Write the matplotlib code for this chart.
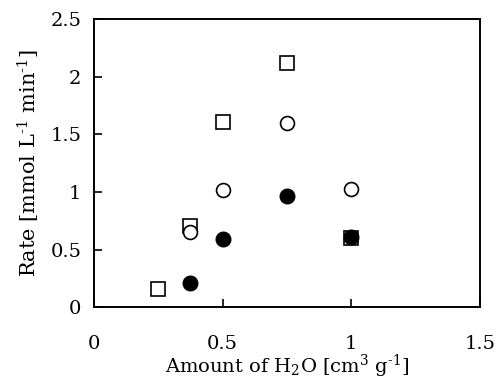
import matplotlib
matplotlib.use("Agg")
import matplotlib.pyplot as plt

plt.rcParams["font.family"] = ["DejaVu Serif"]
plt.rcParams["mathtext.fontset"] = "dejavuserif"

# data
x_square = [0.25, 0.375, 0.5, 0.75, 1.0]
y_square = [0.16, 0.70, 1.61, 2.12, 0.60]
x_open = [0.375, 0.5, 0.75, 1.0]
y_open = [0.65, 1.02, 1.60, 1.03]
x_filled = [0.375, 0.5, 0.75, 1.0]
y_filled = [0.21, 0.59, 0.965, 0.61]

fig = plt.figure(figsize=(4.96, 3.80), dpi=100)
ax = fig.add_axes([0.1895, 0.192, 0.778, 0.757])

ax.plot(x_square, y_square, "s", ms=10.5, mfc="white", mec="black", mew=1.2, ls="none")
ax.plot(x_open, y_open, "o", ms=10, mfc="white", mec="black", mew=1.2, ls="none")
ax.plot(x_filled, y_filled, "o", ms=10.5, mfc="black", mec="black", mew=1.0, ls="none")

ax.set_xlim(0, 1.5)
ax.set_ylim(0, 2.5)
ax.set_xticks([0, 0.5, 1, 1.5])
ax.set_xticklabels(["0", "0.5", "1", "1.5"])
ax.set_yticks([0, 0.5, 1, 1.5, 2, 2.5])
ax.set_yticklabels(["0", "0.5", "1", "1.5", "2", "2.5"])
ax.tick_params(direction="in", length=6, width=1.2, labelsize=14)
ax.tick_params(axis="x", pad=20)
ax.tick_params(axis="y", pad=9)
for s in ax.spines.values():
    s.set_linewidth(1.4)

ax.set_xlabel("Amount of H$_2$O [cm$^3$ g$^{\\text{-}1}$]", fontsize=14, labelpad=0)
ax.set_ylabel("Rate [mmol L$^{\\text{-}1}$ min$^{\\text{-}1}$]", fontsize=15, labelpad=6)

fig.savefig("out.png", dpi=100, facecolor="white")
